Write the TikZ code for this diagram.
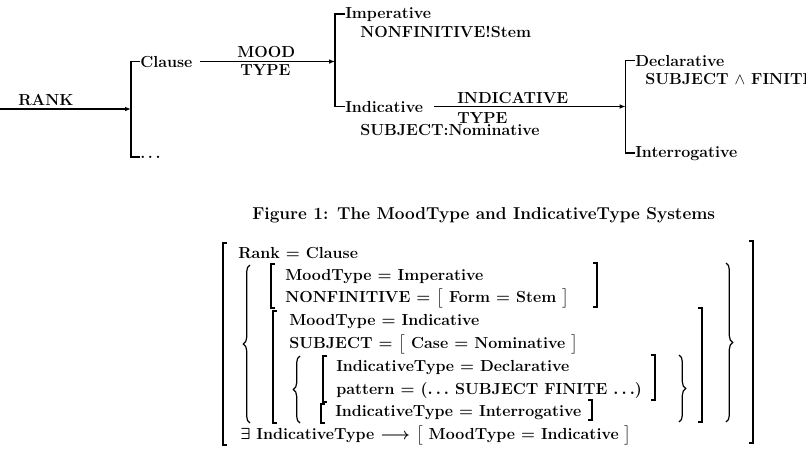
\documentclass[tikz,border=0pt]{standalone}
\usepackage{amsmath,amssymb}
\usepackage{tikz}
\usetikzlibrary{arrows.meta,calc,decorations.pathreplacing}

\begin{document}
\begin{tikzpicture}[
  x=0.75pt,y=-0.75pt,>=Latex,
  feature/.style={anchor=base west,inner sep=0pt,
    font=\fontsize{12}{14}\selectfont\bfseries},
  avmline/.style={anchor=base west,inner sep=0pt,
    font=\fontsize{12}{14}\selectfont\bfseries\boldmath},
  entry/.style={-{Latex[length=4.5pt,width=3.5pt]},line width=0.9pt},
  sysbar/.style={line width=1.1pt},
  sqbrack/.style={line width=1pt},
  curly/.style={line width=0.9pt,decorate,decoration={brace,amplitude=5pt}}
]
\path[use as bounding box,clip] (0,0) rectangle (806,462);
% system network
\coordinate (rankin) at (0,109);
\node[feature] (clause) at (140,67) {Clause};
\node[feature] (more) at (140,158) {.\,.\,.};
\node[feature] (imper) at (345,18) {Imperative};
\node[feature] (imperreal) at (360,37) {NONFINITIVE!Stem};
\node[feature] (indic) at (345,112) {Indicative};
\node[feature] (indicreal) at (360,135) {SUBJECT:Nominative};
\node[feature] (decl) at (635,66) {Declarative};
\node[feature] (declreal) at (645,84) {SUBJECT\ $\wedge$\ FINITE};
\node[feature] (inter) at (635,157) {Interrogative};
\coordinate (rankbar) at ([xshift=-6.75pt]clause.west |- rankin);
\coordinate (moodbar) at ([xshift=-7.5pt]clause.east -| imper.west);
\coordinate (indbar) at ([xshift=-7pt]indic.east -| decl.west);
\coordinate (moodstart) at ([xshift=5.5pt]clause.east);
\coordinate (indstart) at ([xshift=8pt]indic.east);
\draw[sysbar] (clause.west) -| (rankbar) |- (more.west);
\draw[sysbar] (imper.west) -| (moodbar) |- (indic.west);
\draw[sysbar] (decl.west) -| (indbar) |- (inter.west);
\draw[entry] (rankin) -- (rankbar);
\draw[entry] (moodstart) -- (moodbar);
\draw[entry] (indstart) -- (indbar);
\node[feature] (rank) at (18,105) {RANK};
\node[feature] (mood) at (237,57) {MOOD};
\node[feature] (moodtype) at (240,75) {TYPE};
\node[feature] (indlabel) at (457,103) {INDICATIVE};
\node[feature] (indtype) at (457,123) {TYPE};
% caption
\node[feature,font=\fontsize{12.9}{15}\selectfont\bfseries] (caption) at (252,219)
  {Figure 1: The MoodType and IndicativeType Systems};
% feature structure
\node[avmline] (rankval) at (238,258) {Rank $=$ Clause};
\node[avmline] (impmood) at (285,280) {MoodType $=$ Imperative};
\node[avmline] (impnonfin) at (285,302)
  {NONFINITIVE $=$ $\bigl[$ Form $=$ Stem $\bigr]$};
\node[avmline] (indmood) at (289,325) {MoodType $=$ Indicative};
\node[avmline] (indsubj) at (289,348)
  {SUBJECT $=$ $\bigl[$ Case $=$ Nominative $\bigr]$};
\node[avmline] (decltype) at (336,371) {IndicativeType $=$ Declarative};
\node[avmline] (declpat) at (336,394)
  {pattern $=$ ($\ldots$ SUBJECT FINITE $\ldots$)};
\node[avmline] (intertype) at (335,416) {IndicativeType $=$ Interrogative};
\node[avmline] (exists) at (240,439)
  {$\exists$ IndicativeType $\longrightarrow$ $\bigl[$ MoodType $=$ Indicative $\bigr]$};
\draw[sqbrack] (227,243) -| (223,445) -- (227,445);
\draw[sqbrack] (749,241) -| (753,443) -- (749,443);
\draw[curly] (250,423) -- (250,265);
\draw[curly] (726,263) -- (726,422);
\draw[sqbrack] (275,264) -| (271,308) -- (275,308);
\draw[sqbrack] (593,263) -| (597,307) -- (593,307);
\draw[sqbrack] (277,311) -| (273,423) -- (277,423);
\draw[sqbrack] (698,308) -| (702,422) -- (698,422);
\draw[curly] (300,423) -- (300,356);
\draw[curly] (679,355) -- (679,422);
\draw[sqbrack] (327,356) -| (323,402) -- (327,402);
\draw[sqbrack] (651,355) -| (655,400) -- (651,400);
\draw[sqbrack] (325,404) -| (321,423) -- (325,423);
\draw[sqbrack] (588,400) -| (592,420) -- (588,420);
\end{tikzpicture}
\end{document}
